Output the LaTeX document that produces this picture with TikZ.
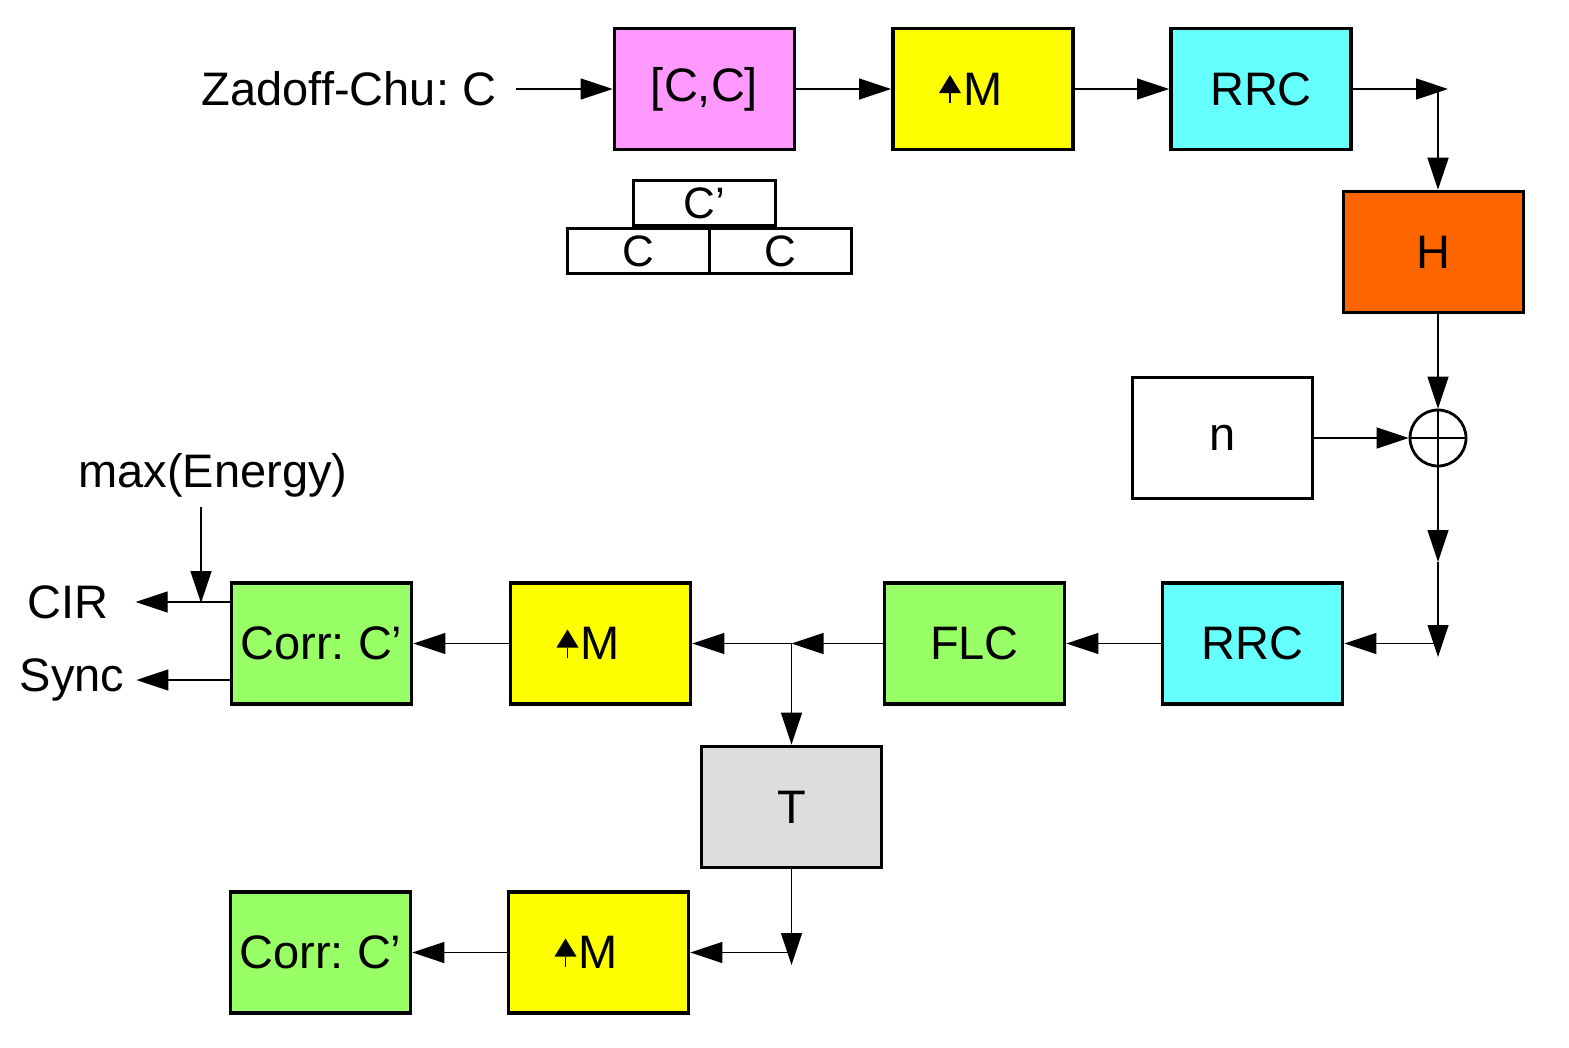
\documentclass[tikz,border=0pt]{standalone}
\usepackage{fontspec}
\setmainfont{Liberation Sans}
\usetikzlibrary{arrows.meta}

\definecolor{ccpink}{HTML}{FF99FF}
\definecolor{upyel}{HTML}{FFFF00}
\definecolor{rrccyan}{HTML}{66FFFF}
\definecolor{horange}{HTML}{FF6600}
\definecolor{flcgreen}{HTML}{99FF66}
\definecolor{tgray}{HTML}{DDDDDD}

\tikzset{
  blk/.style={draw, line width=3.6pt, minimum width=180pt, minimum height=121pt, inner sep=0pt, font=\fontsize{47}{56}\selectfont},
  stk/.style={draw, line width=3pt, minimum width=142pt, minimum height=45pt, inner sep=0pt, font=\fontsize{44}{52}\selectfont},
  lbl/.style={inner sep=0pt, font=\fontsize{47}{56}\selectfont},
  addc/.style={draw, circle, line width=2.8pt, minimum size=56pt, inner sep=0pt},
  arr/.style={line width=1.3pt, -{Triangle[length=32pt,width=21pt]}}
}

% up-sampling mark left of the M
\newcommand{\upmark}[1]{%
  \fill ([shift={(-44pt,-4pt)}]#1.center) -- ++(22pt,0pt) -- ++(-11pt,18pt) -- cycle;
  \draw[line width=1.3pt] ([shift={(-33pt,-4pt)}]#1.center) -- ++(0pt,-10pt);}

\frenchspacing
\begin{document}
\begin{tikzpicture}[x=1pt,y=-1pt]
\useasboundingbox (0,0) rectangle (1569,1047);

% transmitter
\node[lbl] (zc) at (349,89) {Zadoff-Chu: C};
\node[blk, fill=ccpink] (cc) at (704.5,89) {[C,C]};
\node[blk, fill=upyel] (up1) at (983,89) {M};
\node[blk, fill=rrccyan] (rrc1) at (1261,89) {RRC};
\node[stk] (cp) at (704,203) {C’};
\node[stk] (c1) at (638,251) {C};
\node[stk] (c2) at (780,251) {C};

% channel
\node[blk, fill=horange] (h) at (1433.5,252) {H};
\node[blk] (n) at (1222.5,438) {n};
\node[addc] (add) at (1438,438) {};
\draw[line width=2pt] (add.north) -- (add.south) (add.west) -- (add.east);

% receiver
\node[blk, fill=rrccyan] (rrc2) at (1252.5,643.5) {RRC};
\node[blk, fill=flcgreen] (flc) at (974.5,643.5) {FLC};
\node[blk, fill=upyel] (up2) at (600.5,643.5) {M};
\node[blk, fill=flcgreen] (corr1) at (321.5,643.5) {Corr: C’};
\node[blk, fill=tgray] (t) at (791.5,807) {T};
\node[blk, fill=upyel] (up3) at (598.5,952.5) {M};
\node[blk, fill=flcgreen] (corr2) at (320.5,952.5) {Corr: C’};
\node[lbl] (mx) at (213,475) {max(Energy)};
\node[lbl] (cir) at (68,602) {CIR};
\node[lbl] (sync) at (72,680) {Sync};

\upmark{up1}
\upmark{up2}
\upmark{up3}

\coordinate (tr) at (1448,89);
\coordinate (mid1) at (1438,562);
\coordinate (dn) at (1438,657);
\coordinate (br) at (791.5,643.5);
\coordinate (bt) at (791.5,965);
\coordinate (ej) at (201,603);

\draw[arr] ([xshift=20pt]zc.east) -- (cc.west);
\draw[arr] (cc) -- (up1);
\draw[arr] (up1) -- (rrc1);
\draw[arr] (rrc1.east) -- (tr);
\draw[arr] (add |- rrc1.east) -- (add |- h.north);
\draw[arr] (add |- h.south) -- (add.north);
\draw[arr] (n.east) -- (add.west);
\draw[arr] (add.south) -- (mid1);
\draw[arr] (mid1) -- (dn);
\draw[arr] (dn |- rrc2.east) -- (rrc2.east);
\draw[arr] (rrc2) -- (flc);
\draw[arr] (flc.west) -- (br);
\draw[arr] (br) -- (up2.east);
\draw[arr] (br) -- (t.north);
\draw[arr] (up2) -- (corr1);
\draw[arr] (corr1.west |- cir) -- ([xshift=27pt]cir.east);
\draw[arr] (corr1.west |- sync) -- ([xshift=12pt]sync.east);
\draw[arr] ([yshift=-10pt]ej |- mx.south) -- (ej);
\draw[arr] (t.south) -- (bt);
\draw[arr] (bt |- up3.east) -- (up3.east);
\draw[arr] (up3) -- (corr2);
\end{tikzpicture}
\end{document}
